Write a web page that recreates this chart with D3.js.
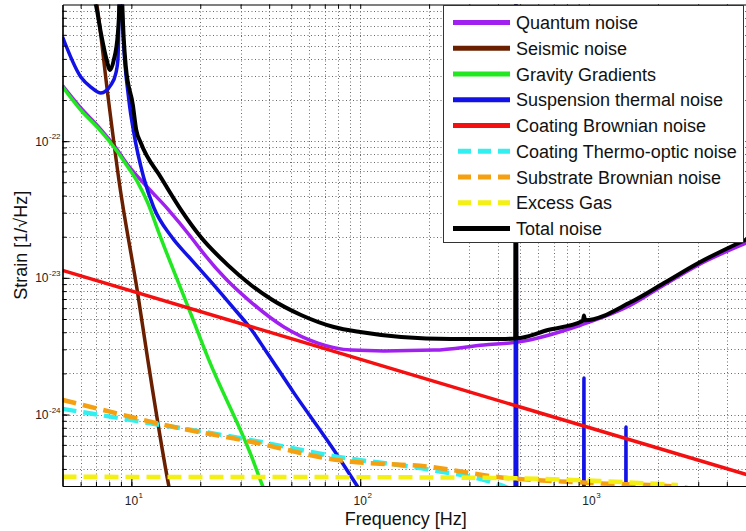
<!DOCTYPE html>
<html><head><meta charset="utf-8">
<script src="https://cdn.jsdelivr.net/npm/d3@7"></script>
<style>
body{margin:0;background:#fff}
svg{display:block}
text{font-family:"Liberation Sans",Arial,Helvetica,sans-serif}
</style>
</head><body>
<svg id="chart" width="746" height="531"></svg>
<script>
// ---------------- data (frequency [Hz], strain [1/sqrt(Hz)]) ----------------
const freqTicks = [10, 100, 1000];
const freqTickExp = ["1", "2", "3"];
const strainTicks = [1e-22, 1e-23, 1e-24];
const strainTickExp = ["-22", "-23", "-24"];

const seriesNames = ["Quantum noise", "Seismic noise", "Gravity Gradients",
  "Suspension thermal noise", "Coating Brownian noise", "Coating Thermo-optic noise",
  "Substrate Brownian noise", "Excess Gas", "Total noise"];

const quantumNoise = [[5,2.55e-22],[6.01,1.75e-22],[7.14,1.29e-22],[8.38,9.35e-23],[9.65,6.7e-23],
  [11.3,4.94e-23],[14.4,3.2e-23],[18.2,1.99e-23],[20.1,1.6e-23],[25.9,9.8e-24],[33.3,6.65e-24],
  [46.4,4.37e-24],[65.3,3.33e-24],[91.1,2.96e-24],[127,2.92e-24],[210,2.96e-24],[347,3.23e-24],
  [489,3.39e-24],[922,4.52e-24],[1524,6.33e-24],[2125,8.87e-24],[2992,1.24e-23],[5000,1.83e-23]];

const seismicNoise = [[6.85,1.39e-21],[7.07,9.9e-22],[7.94,2.0e-22],[8.82,5.2e-23],[10.65,7.74e-24],
  [11.8,2.51e-24],[14.6,2.95e-25],[15.5,1.8e-25]];

const gravityGradients = [[5,2.5e-22],[6.01,1.69e-22],[7.14,1.25e-22],[8.38,9.06e-23],[9.65,6.47e-23],
  [10.7,4.94e-23],[11.8,3.53e-23],[13.1,2.2e-23],[17.7,6.12e-24],[21.8,2.51e-24],[33.3,5.06e-25],
  [37.6,2.95e-25],[40,2.3e-25]];

const suspensionThermal = [[5,5.8e-22],[6.01,2.95e-22],[6.65,2.49e-22],[7.36,2.25e-22],[8.14,2.58e-22],
  [8.56,3.16e-22],[8.73,3.93e-22],[8.95,2e-21],[9.18,6.5e-22],[9.75,2.0e-22],[10.25,1.15e-22],
  [11.3,5.47e-23],[12.5,3.3e-23],[14.9,2.02e-23],[18.2,1.37e-23],[22.3,9.33e-24],[27.2,6.34e-24],
  [33.3,4.22e-24],[38.7,2.92e-24],[51.3,1.44e-24],[76.7,5.5e-25],[97.7,2.95e-25],[150,1.0e-25],
  [300,1.8e-26],[473,6e-27],[479,1e-21],[485,6e-27],[945,1.0e-27],[950,1.85e-24],[955,1.0e-27],
  [1443,4e-28],[1450,8.1e-25],[1457,4e-28],[5000,2e-29]];

const coatingBrownian = [[5,1.135e-23],[50,3.59e-24],[500,1.135e-24],[5000,3.59e-25]];

const coatingThermoOptic = [[5,1.1e-24],[10,9.1e-25],[33.3,6.5e-25],[80,4.9e-25],[204,3.93e-25],
  [399,3.1e-25],[432,2.95e-25],[470,2.75e-25]];

const substrateBrownian = [[5,1.28e-24],[10,9.6e-25],[13.5,8.5e-25],[33.3,6.32e-25],[80,4.64e-25],
  [204,4.13e-25],[399,3.49e-25],[1018,3.16e-25],[2523,2.95e-25],[2800,2.85e-25]];

const excessGas = [[5,3.5e-25],[100,3.48e-25],[411,3.43e-25],[1120,3.26e-25],[2443,3.05e-25]];

const totalNoise = [[6.79,1.17e-21],[7.0,9.9e-22],[7.36,6.18e-22],[7.74,4.13e-22],[8.08,3.32e-22],
  [8.38,3.93e-22],[8.73,6.18e-22],[8.86,9.9e-22],[8.98,3e-21],[9.13,9.9e-22],[9.46,3.49e-22],
  [10.15,1.84e-22],[10.5,1.21e-22],[11.0,9.7e-23],[13.5,5.38e-23],[16.5,3.13e-23],[20.1,1.99e-23],
  [26.4,1.24e-23],[33.3,8.87e-24],[40.7,7.0e-24],[55.1,5.35e-24],[76.7,4.37e-24],[100,4.01e-24],
  [151,3.69e-24],[249,3.57e-24],[412,3.57e-24],[476,3.6e-24],[479,1e-21],[482,3.62e-24],
  [661,4.15e-24],[940,4.85e-24],[950,5.3e-24],[960,4.9e-24],[1524,6.65e-24],[2125,9.16e-24],
  [2992,1.28e-23],[5000,1.95e-23]];

const seriesData = [quantumNoise, seismicNoise, gravityGradients, suspensionThermal, coatingBrownian,
  coatingThermoOptic, substrateBrownian, excessGas, totalNoise];

// ---------------- styles ----------------
const seriesStyle = [
  {color:"#a020f0", width:3.5, dash:null},
  {color:"#6a2000", width:3.5, dash:null},
  {color:"#22e822", width:3.5, dash:null},
  {color:"#1212e6", width:3.5, dash:null},
  {color:"#f41010", width:3.5, dash:null},
  {color:"#33f0f0", width:4.5, dash:"14,7"},
  {color:"#f5a010", width:4.5, dash:"14,7"},
  {color:"#f4f014", width:4.5, dash:"14,7"},
  {color:"#000000", width:4, dash:null}
];

const svg = d3.select("#chart");
const L = 62.5, R = 749, T = 4.5, B = 486;
const x = d3.scaleLog().domain([5, 5000]).range([L, R]);
const y = d3.scaleLog().domain([3e-25, 1e-21]).range([B, T]);

// grid positions
const gridX = [];
[1, 10, 100, 1000].forEach(d => { for (let k = 1; k <= 9; k++) { const v = k * d; if (v > 5.001 && v < 4999) gridX.push(v); } });
const gridY = [];
[1e-25, 1e-24, 1e-23, 1e-22].forEach(d => { for (let k = 1; k <= 9; k++) { const v = k * d; if (v > 3.001e-25 && v < 0.999e-21) gridY.push(v); } });

const grid = svg.append("g").attr("stroke", "#6a6a6a").attr("stroke-width", 1).attr("stroke-dasharray", "1,2.5");
grid.selectAll("line.gx").data(gridX).join("line").attr("class", "gx")
  .attr("x1", d => Math.round(x(d)) + 0.5).attr("x2", d => Math.round(x(d)) + 0.5).attr("y1", T).attr("y2", B);
grid.selectAll("line.gy").data(gridY).join("line").attr("class", "gy")
  .attr("y1", d => Math.round(y(d)) + 0.5).attr("y2", d => Math.round(y(d)) + 0.5).attr("x1", L).attr("x2", R);

// clip
svg.append("clipPath").attr("id", "plotclip").append("rect")
  .attr("x", L).attr("y", T).attr("width", R - L).attr("height", B - T);

const line = d3.line().x(d => x(d[0])).y(d => y(d[1])).curve(d3.curveMonotoneX);
const curves = svg.append("g").attr("clip-path", "url(#plotclip)");
seriesData.forEach((s, i) => {
  const st = seriesStyle[i];
  curves.append("path").datum(s).attr("d", line)
    .attr("fill", "none").attr("stroke", st.color).attr("stroke-width", st.width)
    .attr("stroke-linejoin", "round")
    .attr("stroke-dasharray", st.dash);
});

// axes
function styleAxis(g) {
  g.select(".domain").attr("stroke", "#000").attr("stroke-width", 1.2);
  g.selectAll(".tick line").attr("stroke", "#000").attr("stroke-width", 1);
}
svg.append("g").attr("transform", `translate(0,${B})`)
  .call(d3.axisBottom(x).tickValues(gridX).tickSize(-4).tickSizeOuter(0).tickFormat("")).call(styleAxis);
svg.append("g").attr("transform", `translate(0,${B})`)
  .call(d3.axisBottom(x).tickValues(freqTicks).tickSize(-7).tickSizeOuter(0).tickFormat("")).call(styleAxis);
svg.append("g").attr("transform", `translate(0,${T})`)
  .call(d3.axisTop(x).tickValues(gridX).tickSize(-4).tickSizeOuter(0).tickFormat("")).call(styleAxis);
svg.append("g").attr("transform", `translate(${L},0)`)
  .call(d3.axisLeft(y).tickValues(gridY).tickSize(-4).tickSizeOuter(0).tickFormat("")).call(styleAxis);
svg.append("g").attr("transform", `translate(${L},0)`)
  .call(d3.axisLeft(y).tickValues(strainTicks).tickSize(-7).tickSizeOuter(0).tickFormat("")).call(styleAxis);

// tick labels
const xl = svg.append("g").attr("fill", "#222");
freqTicks.forEach((v, i) => {
  xl.append("text").attr("x", x(v)).attr("y", 505).attr("text-anchor", "middle").attr("font-size", 12).text("10");
  xl.append("text").attr("x", x(v) + 7.2).attr("y", 498).attr("font-size", 8).text(freqTickExp[i]);
});
const yl = svg.append("g").attr("fill", "#222");
strainTicks.forEach((v, i) => {
  yl.append("text").attr("x", 48.5).attr("y", y(v) + 4.5).attr("text-anchor", "end").attr("font-size", 12).text("10");
  yl.append("text").attr("x", 49).attr("y", y(v) - 2).attr("font-size", 8).text(strainTickExp[i]);
});

// axis titles
svg.append("text").attr("x", (L + R) / 2).attr("y", 525).attr("text-anchor", "middle")
  .attr("font-size", 18).attr("fill", "#111").text("Frequency [Hz]");
svg.append("text").attr("transform", `translate(27,${(T + B) / 2}) rotate(-90)`).attr("text-anchor", "middle")
  .attr("font-size", 18).attr("fill", "#111").text("Strain [1/\u221AHz]");

// legend
const lg = svg.append("g");
lg.append("rect").attr("x", 443.5).attr("y", 5.5).attr("width", 300).attr("height", 237)
  .attr("fill", "#fff").attr("stroke", "#333").attr("stroke-width", 1);
seriesNames.forEach((name, i) => {
  const cy = 22.5 + i * 25.75;
  const st = seriesStyle[i];
  lg.append("line").attr("x1", st.dash ? 458 : 453).attr("x2", 510).attr("y1", cy).attr("y2", cy)
    .attr("stroke", st.color).attr("stroke-width", 5).attr("stroke-dasharray", st.dash ? "13,7" : null);
  lg.append("text").attr("x", 516).attr("y", cy + 6.5).attr("font-size", 18).attr("fill", "#111").text(name);
});
</script>
</body></html>
